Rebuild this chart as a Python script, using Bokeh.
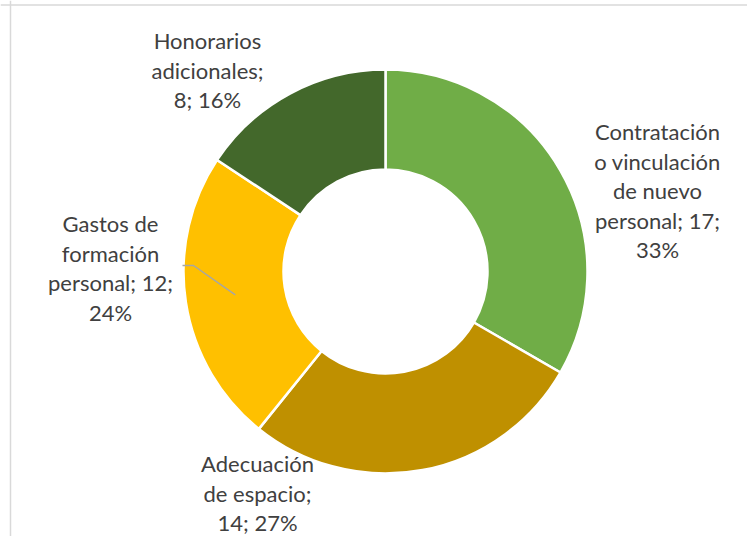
import math
from bokeh.plotting import figure
from bokeh.models import Range1d, Span, ColumnDataSource
from bokeh.core.properties import value
from bokeh.embed import file_html
from bokeh.resources import INLINE

# ---- data ----
categories = ["Contratación o vinculación de nuevo personal",
              "Adecuación de espacio",
              "Gastos de formación personal",
              "Honorarios adicionales"]
values = [17, 14, 12, 8]
colors = ["#70AD47", "#BF9000", "#FFC000", "#43682B"]
label_lines = [
    ["Contratación", "o vinculación", "de nuevo", "personal; {v};", "{p}%"],
    ["Adecuación", "de espacio;", "{v}; {p}%"],
    ["Gastos de", "formación", "personal; {v};", "{p}%"],
    ["Honorarios", "adicionales;", "{v}; {p}%"],
]

# ---- layout (screen pixel coordinates; data y = H - screen y) ----
W, H = 747, 536
def py(y):
    return H - y

cx, cy = 385, 271
R_out, R_in = 202, 102
label_pos = [(657, 131), (257, 463), (110, 223), (207, 40)]
line_gap = 29.5

p = figure(width=W, height=H, output_backend="svg", toolbar_location=None,
           x_range=Range1d(0, W), y_range=Range1d(0, H),
           min_border=0, outline_line_color=None, background_fill_color="white")
p.axis.visible = False
p.grid.visible = False

total = sum(values)
cum = 0
starts, ends = [], []
for v in values:
    starts.append(math.pi / 2 - 2 * math.pi * cum / total)
    cum += v
    ends.append(math.pi / 2 - 2 * math.pi * cum / total)

src = ColumnDataSource(dict(start=starts, end=ends, color=colors, cat=categories))
p.annular_wedge(x=cx, y=py(cy), inner_radius=R_in, outer_radius=R_out,
                start_angle="start", end_angle="end", direction="clock",
                fill_color="color", line_color="white", line_width=2.5, source=src)

# leader line for "Gastos de formación" (index 2)
i = 2
mid = (sum(values[:i]) + values[i] / 2) / total * 2 * math.pi
rm = (R_in + R_out) / 2
ex = cx + rm * math.sin(mid)
ey = cy - rm * math.cos(mid)
lx0, ly0 = label_pos[i][0] + 72, label_pos[i][1] + 42
p.line(x=[lx0, lx0 + 11, ex], y=[py(ly0), py(ly0), py(ey)],
       line_color="#A6A6A6", line_width=1.5)

# labels
for (lx, ly), lines, v in zip(label_pos, label_lines, values):
    pct = round(v / total * 100)
    texts = [s.format(v=v, p=pct) for s in lines]
    xs = [lx] * len(texts)
    ys = [py(ly + k * line_gap) for k in range(len(texts))]
    p.text(x=xs, y=ys, text=texts, text_align="center", text_baseline="middle",
           text_font=value("Lato"), text_font_size="22px", text_color="#404040")

# chart area border (left and top)
p.add_layout(Span(location=10, dimension="height", line_color="#D9D9D9", line_width=1.5))
p.add_layout(Span(location=py(4.5), dimension="width", line_color="#D9D9D9", line_width=1.5))

open("out.html", "w").write(file_html(p, INLINE))
